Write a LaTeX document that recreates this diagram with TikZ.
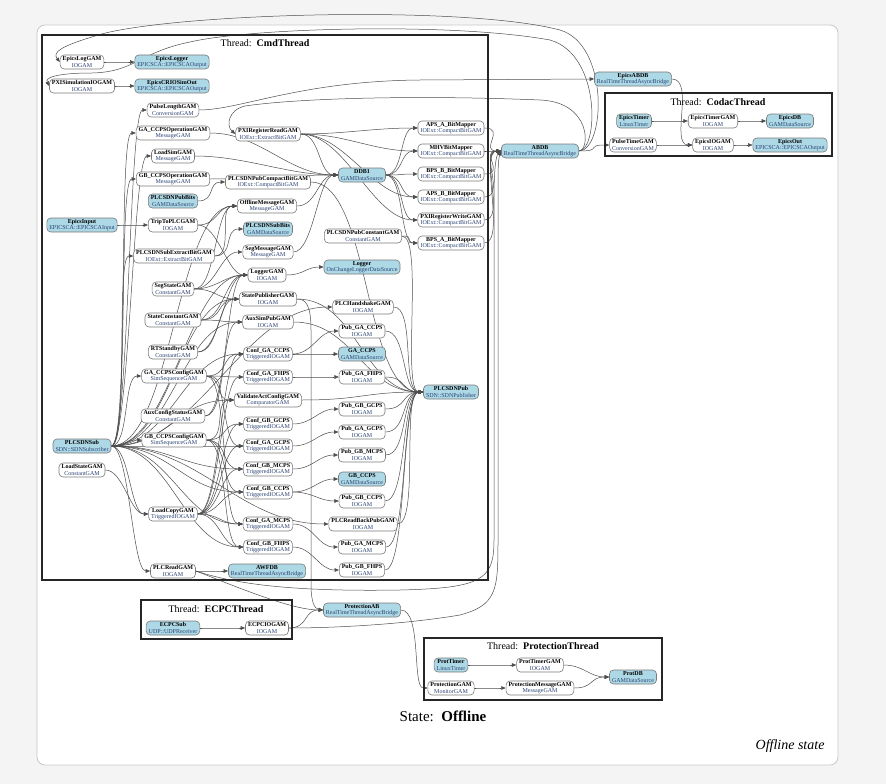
\documentclass[tikz,border=0pt]{standalone}
\usepackage{fontspec}
\setmainfont{Liberation Serif}
\usetikzlibrary{arrows.meta}
\definecolor{lb}{HTML}{ADD8E6}
\definecolor{tyc}{HTML}{2A4272}
\definecolor{ln}{HTML}{4D4D4D}
\definecolor{nb}{HTML}{7A7A7A}
\definecolor{pagebg}{HTML}{F4F4F4}
\definecolor{cardb}{HTML}{C8C8C8}
\newcommand{\GN}[2]{\textbf{#1}\\\textcolor{tyc}{#2}}
\pgfdeclarelayer{bgl}
\pgfdeclarelayer{edl}
\pgfsetlayers{bgl,edl,main}
\newcommand{\Ed}[3][20]{\draw[edg] (#2.east) to[out=0,in=180,distance=#1pt] (#3.west);}
\begin{document}
\begin{tikzpicture}[x=1pt,y=-1pt,
  gam/.style={draw=nb, line width=0.6pt, rounded corners=4pt, fill=white, align=center, inner xsep=2.5pt, inner ysep=0.8pt, minimum height=14pt, font=\fontsize{6}{6.4}\selectfont},
  dsn/.style={gam, fill=lb},
  edg/.style={draw=ln, line width=0.5pt, -{Triangle[length=4.5pt,width=3.6pt]}},
  thr/.style={draw=black!85, line width=1.3pt},
  ttl/.style={font=\fontsize{10}{12}\selectfont, inner sep=0pt}
]
\begin{pgfonlayer}{bgl}
\fill[pagebg] (0,0) rectangle (886,784);
\draw[cardb, fill=white, rounded corners=8pt, line width=0.8pt] (37,25) rectangle (838,765);
\end{pgfonlayer}
\useasboundingbox (0,0) rectangle (886,784);

% thread boxes
\draw[thr] (42,35) rectangle (488,580);
\node[ttl] (tcmd) at (265,43) {Thread:\ \ \textbf{CmdThread}};
\draw[thr] (605,93) rectangle (832,156);
\node[ttl] (tcod) at (718,102) {Thread:\ \ \textbf{CodacThread}};
\draw[thr] (141,600) rectangle (292,639);
\node[ttl] (tecpc) at (216,609) {Thread:\ \ \textbf{ECPCThread}};
\draw[thr] (424,638) rectangle (662,700);
\node[ttl] (tprot) at (543,646) {Thread:\ \ \textbf{ProtectionThread}};

% column 1
\node[gam] (elg) at (82,62) {\GN{EpicsLogGAM}{IOGAM}};
\node[gam] (pxs) at (82,86) {\GN{PXISimulationIOGAM}{IOGAM}};
\node[dsn] (ein) at (82,225) {\GN{EpicsInput}{EPICSCA::EPICSCAInput}};
\node[dsn] (sdnsub) at (82,446) {\GN{PLCSDNSub}{SDN::SDNSubscriber}};
\node[gam] (lsg) at (82,470) {\GN{LoadStateGAM}{ConstantGAM}};

% column 2
\node[dsn] (elog) at (172,62) {\GN{EpicsLogger}{EPICSCA::EPICSCAOutput}};
\node[dsn] (ecrio) at (172,86) {\GN{EpicsCRIOSimOut}{EPICSCA::EPICSCAOutput}};
\node[gam] (plg) at (173,110) {\GN{PulseLengthGAM}{ConversionGAM}};
\node[gam] (gaop) at (173,133) {\GN{GA\_CCPSOperationGAM}{MessageGAM}};
\node[gam] (lsim) at (173,156) {\GN{LoadSimGAM}{MessageGAM}};
\node[gam] (gbop) at (173,179) {\GN{GB\_CCPSOperationGAM}{MessageGAM}};
\node[dsn] (pbits) at (173,201) {\GN{PLCSDNPubBits}{GAMDataSource}};
\node[gam] (trip) at (173,225) {\GN{TripToPLCGAM}{IOGAM}};
\node[gam] (sebg) at (174,256) {\GN{PLCSDNSubExtractBitGAM}{IOExt::ExtractBitGAM}};
\node[gam] (segst) at (173,289) {\GN{SegStateGAM}{ConstantGAM}};
\node[gam] (stc) at (173,320) {\GN{StateConstantGAM}{ConstantGAM}};
\node[gam] (rts) at (173,352) {\GN{RTStandbyGAM}{ConstantGAM}};
\node[gam] (gacfg) at (174,376) {\GN{GA\_CCPSConfigGAM}{SimSequenceGAM}};
\node[gam] (auxcs) at (173,416) {\GN{AuxConfigStatusGAM}{ConstantGAM}};
\node[gam] (gbcfg) at (174,440) {\GN{GB\_CCPSConfigGAM}{SimSequenceGAM}};
\node[gam] (lcopy) at (173,514) {\GN{LoadCopyGAM}{TriggeredIOGAM}};
\node[gam] (plcr) at (173,571) {\GN{PLCReadGAM}{IOGAM}};

% column 3
\node[gam] (pxir) at (268,134) {\GN{PXIRegisterReadGAM}{IOExt::ExtractBitGAM}};
\node[gam] (pcb) at (268,182) {\GN{PLCSDNPubCompactBitGAM}{IOExt::CompactBitGAM}};
\node[gam] (omsg) at (267,206) {\GN{OfflineMessageGAM}{MessageGAM}};
\node[dsn] (sbits) at (268,229) {\GN{PLCSDNSubBits}{GAMDataSource}};
\node[gam] (segm) at (268,252) {\GN{SegMessageGAM}{MessageGAM}};
\node[gam] (lgam) at (267,275) {\GN{LoggerGAM}{IOGAM}};
\node[gam] (spub) at (268,299) {\GN{StatePublisherGAM}{IOGAM}};
\node[gam] (asp) at (268,322) {\GN{AuxSimPubGAM}{IOGAM}};
\node[gam] (cgacc) at (268,354) {\GN{Conf\_GA\_CCPS}{TriggeredIOGAM}};
\node[gam] (cgafh) at (268,377) {\GN{Conf\_GA\_FHPS}{TriggeredIOGAM}};
\node[gam] (vac) at (268,400) {\GN{ValidateActConfigGAM}{ComparatorGAM}};
\node[gam] (cgbgc) at (268,424) {\GN{Conf\_GB\_GCPS}{TriggeredIOGAM}};
\node[gam] (cgagc) at (268,446) {\GN{Conf\_GA\_GCPS}{TriggeredIOGAM}};
\node[gam] (cgbmc) at (268,469) {\GN{Conf\_GB\_MCPS}{TriggeredIOGAM}};
\node[gam] (cgbcc) at (268,492) {\GN{Conf\_GB\_CCPS}{TriggeredIOGAM}};
\node[gam] (cgamc) at (268,524) {\GN{Conf\_GA\_MCPS}{TriggeredIOGAM}};
\node[gam] (cgbfh) at (268,547) {\GN{Conf\_GB\_FHPS}{TriggeredIOGAM}};
\node[dsn] (awf) at (267,571) {\GN{AWFDB}{RealTimeThreadAsyncBridge}};

% column 4
\node[dsn] (ddb1) at (362,175) {\GN{DDB1}{GAMDataSource}};
\node[gam] (pcg) at (363,236) {\GN{PLCSDNPubConstantGAM}{ConstantGAM}};
\node[dsn] (logger) at (362,267) {\GN{Logger}{OnChangeLoggerDataSource}};
\node[gam] (phs) at (363,307) {\GN{PLCHandshakeGAM}{IOGAM}};
\node[gam] (pgacc) at (362,331) {\GN{Pub\_GA\_CCPS}{IOGAM}};
\node[dsn] (gacc) at (362,354) {\GN{GA\_CCPS}{GAMDataSource}};
\node[gam] (pgafh) at (362,377) {\GN{Pub\_GA\_FHPS}{IOGAM}};
\node[gam] (pgbgc) at (362,409) {\GN{Pub\_GB\_GCPS}{IOGAM}};
\node[gam] (pgagc) at (362,432) {\GN{Pub\_GA\_GCPS}{IOGAM}};
\node[gam] (pgbmc) at (362,455) {\GN{Pub\_GB\_MCPS}{IOGAM}};
\node[dsn] (gbcc) at (362,479) {\GN{GB\_CCPS}{GAMDataSource}};
\node[gam] (pgbcc) at (362,501) {\GN{Pub\_GB\_CCPS}{IOGAM}};
\node[gam] (prb) at (363,524) {\GN{PLCReadBackPubGAM}{IOGAM}};
\node[gam] (pgamc) at (362,547) {\GN{Pub\_GA\_MCPS}{IOGAM}};
\node[gam] (pgbfh) at (362,570) {\GN{Pub\_GB\_FHPS}{IOGAM}};

% column 5
\node[gam] (apsa) at (451,128) {\GN{APS\_A\_BitMapper}{IOExt::CompactBitGAM}};
\node[gam] (mhv) at (451,151) {\GN{MHVBitMapper}{IOExt::CompactBitGAM}};
\node[gam] (bpsb) at (451,174) {\GN{BPS\_B\_BitMapper}{IOExt::CompactBitGAM}};
\node[gam] (apsb) at (451,197) {\GN{APS\_B\_BitMapper}{IOExt::CompactBitGAM}};
\node[gam] (pxiw) at (451,220) {\GN{PXIRegisterWriteGAM}{IOExt::CompactBitGAM}};
\node[gam] (bpsa) at (451,243) {\GN{BPS\_A\_BitMapper}{IOExt::CompactBitGAM}};
\node[dsn] (sdnpub) at (451,392) {\GN{PLCSDNPub}{SDN::SDNPublisher}};

% outside
\node[dsn] (abdb) at (540,151) {\GN{ABDB}{RealTimeThreadAsyncBridge}};
\node[dsn] (eabdb) at (633,79) {\GN{EpicsABDB}{RealTimeThreadAsyncBridge}};
\node[dsn] (etimer) at (634,121) {\GN{EpicsTimer}{LinuxTimer}};
\node[gam] (etgam) at (713,121) {\GN{EpicsTimerGAM}{IOGAM}};
\node[dsn] (edb) at (790,121) {\GN{EpicsDB}{GAMDataSource}};
\node[gam] (ptg) at (633,145) {\GN{PulseTimeGAM}{ConversionGAM}};
\node[gam] (eiog) at (713,145) {\GN{EpicsIOGAM}{IOGAM}};
\node[dsn] (eout) at (790,145) {\GN{EpicsOut}{EPICSCA::EPICSCAOutput}};
\node[dsn] (ecsub) at (173,628) {\GN{ECPCSub}{UDP::UDPReceiver}};
\node[gam] (eciog) at (267,628) {\GN{ECPCIOGAM}{IOGAM}};
\node[dsn] (protab) at (362,610) {\GN{ProtectionAB}{RealTimeThreadAsyncBridge}};
\node[dsn] (ptimer) at (451,665) {\GN{ProtTimer}{LinuxTimer}};
\node[gam] (ptgam) at (540,665) {\GN{ProtTimerGAM}{IOGAM}};
\node[gam] (pgam) at (451,688) {\GN{ProtectionGAM}{MonitorGAM}};
\node[gam] (pmsg) at (540,688) {\GN{ProtectionMessageGAM}{MessageGAM}};
\node[dsn] (pdb) at (633,677) {\GN{ProtDB}{GAMDataSource}};

\node[font=\fontsize{15}{18}\selectfont] (st) at (443,716) {State:\ \ \textbf{Offline}};
\node[font=\itshape\fontsize{14}{16}\selectfont, anchor=east] (cap) at (828,746) {Offline state};

\begin{pgfonlayer}{edl}
% simple straight ones
\Ed{elg}{elog}
\Ed{pxs}{ecrio}
\Ed{ein}{trip}
\Ed{ecsub}{eciog}
\Ed{eciog}{protab}
\Ed{ptimer}{ptgam}
\Ed{ptgam}{pdb}
\Ed{pgam}{pmsg}
\Ed{pmsg}{pdb}
\Ed{etimer}{etgam}
\Ed{etgam}{edb}
\Ed{ptg}{eiog}
\Ed{eiog}{eout}
\Ed[25]{abdb}{ptg}
\draw[edg] (protab.east) .. controls (422,610) and (412,688) .. (pgam.west);
\draw[edg] (eabdb.east) .. controls (695,79) and (670,145) .. (eiog.west);

% PLCSDNSub to column 2
\foreach \t in {plg,gaop,lsim,gbop,sebg,gacfg,gbcfg,lcopy,plcr}{\Ed[18]{sdnsub}{\t}}
% PLCSDNSub to column 3/4
\foreach \t in {omsg,lgam,spub,asp,cgacc,vac,cgagc,cgbmc,cgbcc,cgamc,cgbfh}{\Ed[60]{sdnsub}{\t}}
\Ed[90]{sdnsub}{phs}
\Ed[90]{sdnsub}{prb}
\Ed[18]{lsg}{lcopy}

% column 2 -> column 3
\Ed[18]{pbits}{pcb}
\Ed[20]{trip}{omsg}
\Ed[20]{trip}{lgam}
\Ed[20]{sebg}{sbits}
\Ed[20]{sebg}{omsg}
\foreach \t in {segm,lgam,spub,omsg}{\Ed[22]{segst}{\t}}
\foreach \t in {lgam,spub,asp}{\Ed[22]{stc}{\t}}
\foreach \t in {lgam,spub}{\Ed[22]{rts}{\t}}
\foreach \t in {lgam,asp}{\Ed[22]{auxcs}{\t}}
\foreach \t in {cgacc,cgafh,cgagc,cgamc,vac}{\Ed[22]{gacfg}{\t}}
\foreach \t in {cgbgc,cgbmc,cgbcc,cgbfh,vac}{\Ed[22]{gbcfg}{\t}}
\foreach \t in {cgacc,cgafh,cgbgc,cgagc,cgbmc,cgbcc,cgamc,cgbfh}{\Ed[22]{lcopy}{\t}}
\Ed[18]{plcr}{awf}

% to DDB1
\foreach \s in {gaop,lsim,gbop}{\Ed[50]{\s}{ddb1}}
\foreach \s in {pxir,omsg,segm}{\Ed[20]{\s}{ddb1}}
% column 3 -> column 4
\Ed[18]{lgam}{logger}
\Ed[20]{cgacc}{gacc}
\Ed[20]{cgacc}{pgacc}
\Ed[20]{cgafh}{pgafh}
\Ed[20]{cgbgc}{pgbgc}
\Ed[20]{cgagc}{pgagc}
\Ed[20]{cgbmc}{pgbmc}
\Ed[20]{cgbcc}{gbcc}
\Ed[20]{cgbcc}{pgbcc}
\Ed[20]{cgamc}{pgamc}
\Ed[20]{cgbfh}{pgbfh}

% to column 5
\foreach \t in {apsa,mhv,apsb,pxiw}{\Ed[45]{pxir}{\t}}
\foreach \t in {apsa,mhv,bpsb,apsb,pxiw,bpsa}{\Ed[18]{ddb1}{\t}}
\Ed[15]{pcg}{bpsa}
\foreach \s in {phs,pgacc,pgafh,pgbgc,pgagc,pgbmc,pgbcc,prb,pgamc,pgbfh,pcg}{\Ed[22]{\s}{sdnpub}}
\foreach \s in {spub,asp,vac,pcb}{\Ed[60]{\s}{sdnpub}}

% to ABDB
\foreach \s in {apsa,mhv,bpsb,apsb,pxiw,bpsa}{\Ed[22]{\s}{abdb}}

% long routes
\draw[edg] (abdb.east) .. controls (605,151) and (610,45) .. (560,30) .. controls (460,4) and (160,14) .. (95,36) .. controls (62,46) and (52,52) .. (elg.west);
\draw[edg] (abdb.east) .. controls (598,151) and (602,55) .. (550,40) .. controls (450,22) and (250,28) .. (190,42) .. controls (140,52) and (135,72) .. (92,73) .. controls (55,73) and (45,78) .. (pxs.west);
\draw[edg] (abdb.east) .. controls (590,151) and (592,102) .. (540,100) .. controls (420,95) and (300,98) .. (245,106) .. controls (228,110) and (226,126) .. (pxir.west);
\draw[edg] (plg.east) .. controls (240,110) and (300,81) .. (420,80) -- (eabdb.west);
\draw[edg] (plcr.east) .. controls (230,582) and (280,592) .. (400,590) .. controls (482,588) and (494,580) .. (494,540) -- (494,200) .. controls (494,168) and (496,156) .. (abdb.west);
\draw[edg] (eciog.east) .. controls (330,628) and (400,625) .. (460,615) .. controls (497,605) and (498,590) .. (498,540) -- (498,200) .. controls (498,170) and (498,160) .. (abdb.west);
\draw[edg] (plcr.east) .. controls (230,584) and (290,610) .. (protab.west);
\draw[edg] (spub.east) .. controls (306,299) and (311,305) .. (311,330) -- (311,585) .. controls (311,600) and (314,609) .. (protab.west);
\end{pgfonlayer}
\end{tikzpicture}
\end{document}
